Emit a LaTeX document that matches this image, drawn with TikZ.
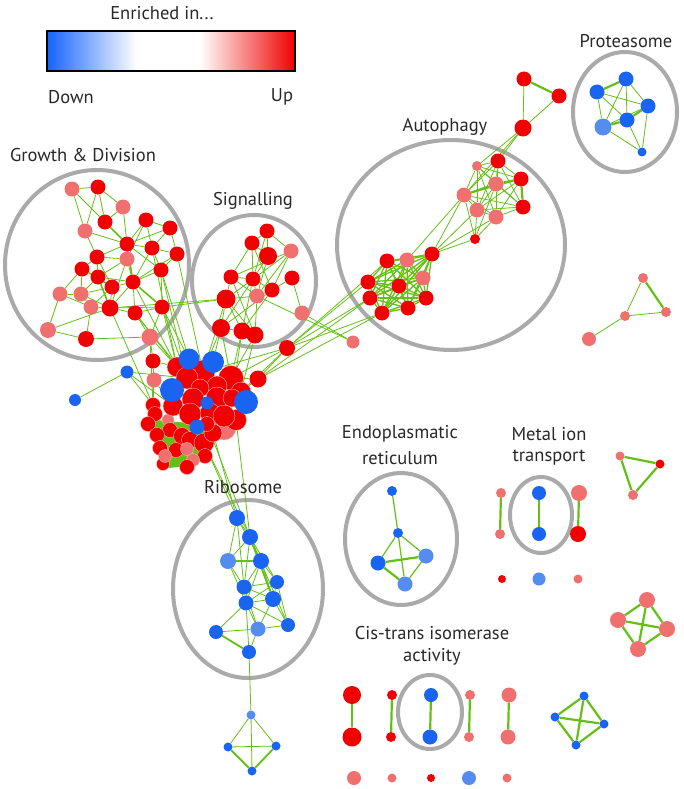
\documentclass[tikz,border=0pt]{standalone}
\usepackage{fontspec}
\setmainfont{PT Sans}
\definecolor{cred}{RGB}{240,0,0}
\definecolor{cpink}{RGB}{240,112,112}
\definecolor{cblue}{RGB}{25,100,240}
\definecolor{clblue}{RGB}{85,140,240}
\definecolor{ringc}{RGB}{170,170,170}
\definecolor{edgec}{RGB}{100,192,20}
\definecolor{txt}{RGB}{40,40,40}
\definecolor{barblue}{RGB}{20,100,255}
\pgfdeclarelayer{rings}
\pgfdeclarelayer{edges}
\pgfsetlayers{rings,edges,main}
\begin{document}
\begin{tikzpicture}[x=1pt,y=-1pt,
  nd/.style={circle,inner sep=0pt,minimum size=#1pt},
  nr/.style={nd=#1,fill=cred}, nr/.default=15,
  np/.style={nd=#1,fill=cpink}, np/.default=15,
  nb/.style={nd=#1,fill=cblue}, nb/.default=15,
  nl/.style={nd=#1,fill=clblue}, nl/.default=15,
  cl/.style={draw=white!70!cred,line width=0.4pt},
  e/.style={draw=edgec,line width=0.8pt},
  eT/.style={draw=edgec,line width=2.2pt},
  ring/.style={draw=ringc,line width=4pt},
  lab/.style={font=\fontsize{18.5}{22}\selectfont,text=txt,inner sep=0pt}]
\useasboundingbox (0,0) rectangle (683,789);
% legend
\shade[left color=barblue,right color=white] (47,31) rectangle (137,71);
\fill[white] (137,31) rectangle (200,71);
\shade[left color=white,right color=cred] (200,31) rectangle (295,71);
\draw[line width=1.6pt] (47,31) rectangle (295,71);
\node[lab] (tEnr) at (162,13) {Enriched in...};
\node[lab] (tDown) at (71,97) {Down};
\node[lab] (tUp) at (282,97) {Up};
% labels
\node[lab] (tGrow) at (83,155) {Growth \& Division};
\node[lab] (tSig) at (253,201) {Signalling};
\node[lab] (tAuto) at (445,127) {Autophagy};
\node[lab] (tProt) at (626,41) {Proteasome};
\node[lab] (tRibo) at (243,487) {Ribosome};
\node[lab] (tER1) at (400,434) {Endoplasmatic};
\node[lab] (tER2) at (400,458) {reticulum};
\node[lab] (tMet1) at (549,434) {Metal ion};
\node[lab] (tMet2) at (549,458) {transport};
\node[lab] (tCis1) at (432,633) {Cis-trans isomerase};
\node[lab] (tCis2) at (432,657) {activity};
% rings
\begin{pgfonlayer}{rings}
\draw[ring] (97,265) ellipse [x radius=92pt,y radius=95pt];
\draw[ring] (254,281) ellipse [x radius=62pt,y radius=66pt];
\draw[ring] (451,245) ellipse [x radius=114pt,y radius=105pt];
\draw[ring] (625,112) ellipse [x radius=52pt,y radius=60pt];
\draw[ring] (248,589) ellipse [x radius=75pt,y radius=89pt];
\draw[ring] (401,539) ellipse [x radius=56pt,y radius=66pt];
\draw[ring] (541,515) ellipse [x radius=31pt,y radius=38pt];
\draw[ring] (430,712) ellipse [x radius=32pt,y radius=37pt];
\end{pgfonlayer}
% growth & division
\node[np] (g1) at (72,189) {};
\node[nr] (g2) at (98,187) {};
\node[np] (g3) at (123,207) {};
\node[nr] (g4) at (105,222) {};
\node[np] (g5) at (85,231) {};
\node[nr] (g6) at (146,220) {};
\node[nr] (g7) at (170,228) {};
\node[nr] (g8) at (127,244) {};
\node[nr] (g9) at (152,248) {};
\node[nr] (g10) at (177,254) {};
\node[nr] (g11) at (97,257) {};
\node[np] (g12) at (127,259) {};
\node[nr] (g13) at (82,269) {};
\node[nr] (g14) at (161,270) {};
\node[nr] (g15) at (98,277) {};
\node[nr] (g16) at (133,282) {};
\node[nr] (g17) at (112,287) {};
\node[np] (g18) at (60,294) {};
\node[np] (g19) at (81,294) {};
\node[np] (g20) at (91,307) {};
\node[nr=17] (g21) at (110,308) {};
\node[nr] (g22) at (135,313) {};
\node[nr] (g23) at (162,307) {};
\node[np=16] (g24) at (48,330) {};
\node[nr=16] (g25) at (86,339) {};
\node[np=17] (g26) at (150,337) {};
% signalling
\node[nr] (s1) at (267,231) {};
\node[nr] (s2) at (252,243) {};
\node[np] (s3) at (291,251) {};
\node[nr=18] (s4) at (268,256) {};
\node[nr] (s5) at (231,277) {};
\node[nr] (s6) at (253,279) {};
\node[nr] (s7) at (292,278) {};
\node[nr] (s8) at (272,290) {};
\node[np] (s9) at (257,296) {};
\node[nr=19] (s10) at (226,299) {};
\node[np] (s11) at (302,313) {};
\node[nr=18] (s12) at (221,328) {};
\node[nr=17] (s13) at (242,331) {};
\node[nr=17] (s14) at (255,335) {};
\node[np=13] (x8) at (353,342) {};
\node[nr=16] (x6) at (287,348) {};
\node[nr=17] (x5) at (258,379) {};
% autophagy
\node[nr] (a1) at (524,79) {};
\node[nr] (a2) at (559,96) {};
\node[nr=17] (a3) at (523,128) {};
\node[nr] (u1) at (498,161) {};
\node[np=10] (u2) at (477,166) {};
\node[nr] (u3) at (521,179) {};
\node[np] (u4) at (496,184) {};
\node[np] (u5) at (464,195) {};
\node[nr] (u6) at (523,207) {};
\node[np] (u7) at (477,210) {};
\node[np] (u8) at (496,217) {};
\node[nr=10] (u9) at (475,239) {};
\node[nr] (l1) at (432,254) {};
\node[nr] (l2) at (387,261) {};
\node[np] (l3) at (407,260) {};
\node[np] (l4) at (423,278) {};
\node[nr] (l5) at (368,282) {};
\node[nr] (l6) at (399,286) {};
\node[nr] (l7) at (370,298) {};
\node[nr] (l8) at (426,298) {};
\node[nr] (l9) at (382,313) {};
\node[nr] (l10) at (408,308) {};
% proteasome
\node[nb] (p1) at (626,79) {};
\node[nb] (p2) at (597,92) {};
\node[nb] (p3) at (648,106) {};
\node[nb] (p4) at (627,120) {};
\node[nl=17] (p5) at (603,127) {};
\node[nb=9] (p6) at (642,152) {};
% small triangle right
\node[np=10] (t1) at (643,278) {};
\node[np=10] (t2) at (666,312) {};
\node[np=10] (t3) at (625,316) {};
\node[np=14] (t4) at (589,339) {};
% outer nodes near center
\node[nr=15] (x1) at (153,361) {};
\node[np=15] (x2) at (154,380) {};
\node[nb=13] (x3) at (127,372) {};
\node[nb=12] (x4) at (75,400) {};
% central cluster
\node[np=24,cl] (c29) at (224,428) {};
\node[np=12,cl] (c33) at (168,420) {};
\node[nr=20,cl] (c1) at (177,367) {};
\node[nr=24,cl] (c2) at (203,372) {};
\node[nr=25,cl] (c3) at (231,378) {};
\node[nr=22,cl] (c4) at (187,378) {};
\node[nr=20,cl] (c26) at (241,392) {};
\node[nr=20,cl] (c5) at (217,386) {};
\node[nr=18,cl] (c6) at (200,388) {};
\node[nr=15,cl] (c14) at (153,405) {};
\node[nr=15,cl] (c15) at (155,414) {};
\node[nr=15,cl] (c16) at (148,424) {};
\node[nr=20,cl] (c10) at (173,406) {};
\node[nr=22,cl] (c7) at (193,399) {};
\node[nr=22,cl] (c8) at (217,398) {};
\node[nr=18,cl] (c9) at (232,398) {};
\node[nr=21,cl] (c28) at (236,420) {};
\node[nr=22,cl] (c11) at (190,414) {};
\node[nr=20,cl] (c12) at (210,413) {};
\node[nr=22,cl] (c13) at (224,416) {};
\node[nr=15,cl] (c34) at (170,430) {};
\node[nr=15,cl] (c18) at (157,435) {};
\node[nr=15,cl] (c19) at (160,448) {};
\node[nr=17,cl] (c20) at (182,436) {};
\node[nr=17,cl] (c21) at (190,440) {};
\node[nr=20,cl] (c22) at (204,443) {};
\node[nr=18,cl] (c23) at (213,433) {};
\node[nr=15,cl] (c17) at (207,424) {};
\node[nr=15,cl] (c35) at (176,450) {};
\node[nr=15,cl] (c36) at (205,456) {};
\node[nr=13,cl] (c25) at (163,464) {};
\node[np=13,cl] (c30) at (165,456) {};
\node[np=13,cl] (c31) at (187,449) {};
\node[np=13,cl] (c32) at (193,460) {};
\node[nr=15,cl] (c24) at (187,467) {};
\node[nb=21] (cb1) at (189,359) {};
\node[nb=22] (cb2) at (213,362) {};
\node[nb=24] (cb3) at (172,390) {};
\node[nb=24] (cb4) at (246,402) {};
\node[nb=13] (cb5) at (207,403) {};
\node[nb=15] (cb6) at (197,427) {};
% ribosome
\node[nb=16] (r1) at (237,518) {};
\node[nb=16] (r2) at (250,537) {};
\node[nl=16] (r3) at (228,561) {};
\node[nb=16] (r4) at (261,561) {};
\node[nb=14] (r5) at (277,582) {};
\node[nb=15] (r6) at (244,587) {};
\node[nb=16] (r7) at (273,599) {};
\node[nb=15] (r8) at (246,603) {};
\node[nb=14] (r9) at (216,632) {};
\node[nl=15] (r10) at (258,629) {};
\node[nb=14] (r11) at (288,625) {};
\node[nb=14] (r12) at (249,652) {};
\node[nl=9] (d1) at (251,715) {};
\node[nb=9] (d2) at (228,747) {};
\node[nb=9] (d3) at (276,746) {};
\node[nb=9] (d4) at (252,771) {};
% ER
\node[nb=10] (e1) at (392,491) {};
\node[nb=10] (e2) at (398,533) {};
\node[nb=15] (e3) at (378,563) {};
\node[nl=15] (e4) at (426,556) {};
\node[nl=15] (e5) at (405,584) {};
% metal ion
\node[np=10] (m1) at (501,493) {};
\node[np=10] (m2) at (500,534) {};
\node[nb=14] (m3) at (539,493) {};
\node[nb=14] (m4) at (539,534) {};
\node[np=16] (m5) at (579,493) {};
\node[nr=16] (m6) at (578,534) {};
\node[nr=8] (m7) at (502,579) {};
\node[nl=13] (m8) at (539,579) {};
\node[np=9] (m9) at (578,579) {};
\node[np=9] (q1) at (620,456) {};
\node[nr=9] (q2) at (660,464) {};
\node[np=10] (q3) at (633,495) {};
\node[np=16] (q4) at (647,600) {};
\node[np=16] (q5) at (618,620) {};
\node[np=16] (q6) at (667,629) {};
\node[np=16] (q7) at (638,649) {};
% cis-trans
\node[nr=18] (k1) at (352,695) {};
\node[nr=19] (k2) at (352,737) {};
\node[nr=10] (k3) at (392,695) {};
\node[nr=10] (k4) at (391,737) {};
\node[nb=14] (k5) at (431,695) {};
\node[nb=15] (k6) at (430,737) {};
\node[np=10] (k7) at (470,695) {};
\node[np=10] (k8) at (469,737) {};
\node[np=15] (k9) at (509,695) {};
\node[np=15] (k10) at (508,737) {};
\node[nb=9] (b1) at (584,696) {};
\node[nb=9] (b2) at (555,717) {};
\node[nb=9] (b3) at (604,724) {};
\node[nb=9] (b4) at (576,745) {};
\node[np=14] (z1) at (354,778) {};
\node[np=9] (z2) at (392,778) {};
\node[nr=8] (z3) at (431,778) {};
\node[nl=14] (z4) at (469,778) {};
\node[np=9] (z5) at (507,778) {};
% edges
\begin{pgfonlayer}{edges}
\fill[edgec] (155,420) -- (200,424) -- (208,440) -- (198,465) -- (168,468) -- (155,450) -- cycle;
\foreach \a/\b in {g1/g2,g1/g4,g1/g5,g2/g3,g2/g4,g2/g5,g3/g4,g3/g8,g5/g8,g5/g11,g6/g7,g6/g8,g6/g9,g7/g9,g7/g10,g7/g8,g8/g9,g8/g12,g8/g11,g8/g14,g9/g10,g9/g14,g10/g14,g11/g12,g11/g13,g11/g15,g12/g15,g12/g16,g13/g15,g13/g18,g13/g19,g15/g17,g15/g16,g16/g17,g16/g9,g16/g22,g16/g21,g17/g21,g17/g19,g18/g19,g18/g24,g18/g20,g19/g20,g19/g21,g20/g21,g20/g25,g21/g22,g21/g23,g22/g23,g22/g26,g24/g25,g25/g26,g14/g23,g14/g16,g10/g16,g23/g26,g12/g21,g11/g17,g13/g17,g20/g17,g24/g21,g15/g19,g6/g12,g21/s10,g23/s10}
  {\draw[e] (\a) -- (\b);}
\foreach \a/\b in {g4/g8,g15/g21,g8/g16,g16/g23}
  {\draw[e,line width=1.6pt] (\a) -- (\b);}
\foreach \a/\b in {s1/s2,s1/s3,s1/s4,s1/s6,s2/s4,s2/s5,s2/s6,s2/s8,s3/s6,s3/s9,s3/s8,s4/s6,s5/s6,s5/s10,s5/s9,s6/s8,s6/s9,s6/s10,s6/s12,s7/s11,s7/s8,s8/s9,s8/s13,s9/s10,s9/s14,s10/s12,s10/s13,s10/s14,s12/s13,s13/s14,s8/s12,s4/s9,s3/s5,s5/s14,s6/s13,s11/x8,s9/x8}
  {\draw[e] (\a) -- (\b);}
\foreach \a/\b in {g22/c1,g23/c1,g26/c1,g16/c1,g14/c4,g10/c2,g23/c4,g22/c4,g26/c14,g9/c1,g21/c14,g26/x1,g23/cb1,g14/cb1,s12/c2,s12/c3,s13/c3,s14/c3,s10/c2,s12/cb2,s13/c9,s14/c26,x5/c3,x5/x6,x5/c9,x6/c3,x6/c2,x6/c26,x6/l5,x6/l7,x6/l9,x6/l2,x5/l7,x5/l9,x3/x4,x3/c10,x3/c4,x3/c14,x1/c1,x2/c10,x2/c14,c22/r1,c23/r1,c17/r2,c22/r2,c28/r2,x1/c14}
  {\draw[e] (\a) -- (\b);}
\foreach \i in {1,...,8}{\foreach \j in {1,...,8}{\ifnum\i<\j \draw[e] (u\i) -- (u\j);\fi}}
\foreach \i in {1,...,10}{\foreach \j in {1,...,10}{\ifnum\i<\j \draw[e,line width=1.3pt] (l\i) -- (l\j);\fi}}
\foreach \a/\b in {u9/u5,u9/u7,u9/u8,u9/u4,l1/u5,l1/u7,l1/u9,l1/u8,l3/u5,a3/u1,a3/u5,a3/u2,a1/a3,a2/a3,p1/p4,p1/p5,p1/p3,p2/p3,p2/p4,p2/p5,p3/p5,p5/p6,p4/p6,p3/p6,t1/t3,t3/t2,t3/t4}
  {\draw[e] (\a) -- (\b);}
\foreach \a/\b in {u3/u4,u4/u5,u3/u6,a1/a2,p1/p2,p3/p4,p4/p5,t1/t2}
  {\draw[eT] (\a) -- (\b);}
\foreach \a/\b in {r1/r2,r1/r3,r1/r6,r1/r4,r2/r3,r2/r4,r2/r6,r2/r5,r2/r7,r3/r6,r3/r8,r4/r6,r4/r5,r4/r7,r4/r8,r5/r6,r5/r7,r5/r11,r6/r7,r6/r8,r6/r10,r7/r8,r7/r11,r7/r10,r8/r9,r8/r10,r8/r12,r8/r11,r9/r10,r10/r12,r10/r11,r5/r8,r2/r11,r12/d1,d1/d2,d1/d3,d2/d3,d1/d4}
  {\draw[e] (\a) -- (\b);}
\foreach \a/\b in {r3/r4,r9/r12,d2/d4,d3/d4,r2/r7}
  {\draw[e,line width=1.8pt] (\a) -- (\b);}
\foreach \a/\b in {e1/e2,e2/e3,e2/e4,e2/e5,e4/e5}
  {\draw[e,line width=1.2pt] (\a) -- (\b);}
\foreach \a/\b in {e3/e4,e3/e5,m1/m2,m3/m4,m5/m6,q1/q2,q2/q3,q1/q3,q4/q5,q4/q6,q5/q6,q4/q7,q5/q7,q6/q7,k1/k2,k3/k4,k5/k6,k7/k8,k9/k10,b1/b2,b1/b3,b2/b3,b1/b4,b2/b4,b3/b4}
  {\draw[eT] (\a) -- (\b);}
\end{pgfonlayer}
\end{tikzpicture}
\end{document}
